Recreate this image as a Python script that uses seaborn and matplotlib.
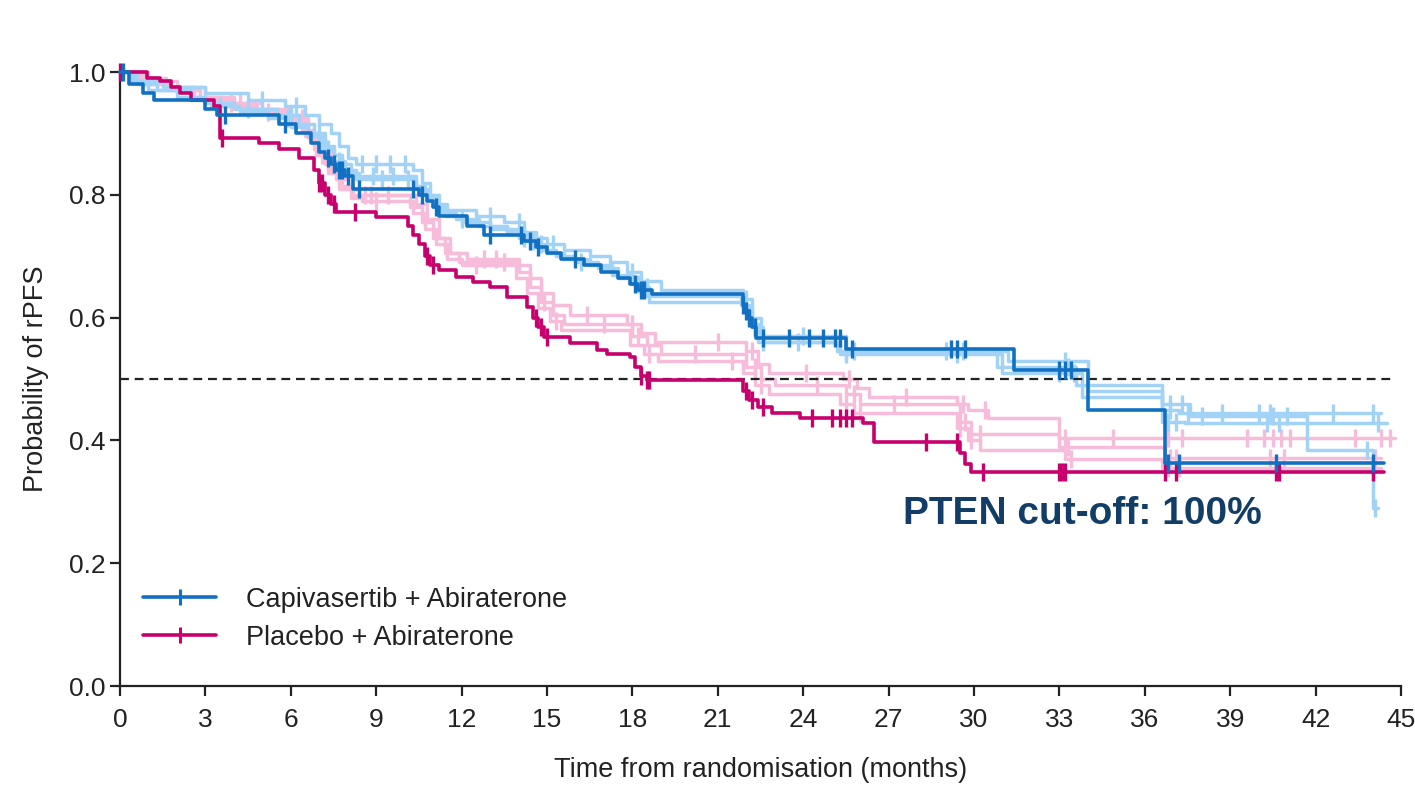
import numpy as np
import matplotlib
matplotlib.use("Agg")
import matplotlib.pyplot as plt
from matplotlib.lines import Line2D
import seaborn as sns

# ---------------- data ----------------
# PTEN cut-off 100% curves (dark)
cap_t = [0, 0.3, 0.8, 1.2, 3.0, 3.4, 5.6, 6.2, 6.7, 7.0, 7.2, 7.4, 7.6, 7.9, 8.2, 10.5, 10.8, 11.0,
         11.2, 12.2, 12.8, 14.2, 14.6, 15.0, 15.5, 16.3, 16.9, 17.5, 17.9, 18.2, 18.7, 21.9, 22.0, 22.1,
         22.2, 22.35, 25.5, 31.4, 34.0, 36.7, 44.4]
cap_s = [1.0, 0.98, 0.965, 0.955, 0.94, 0.93, 0.915, 0.90, 0.885, 0.87, 0.86, 0.85, 0.84, 0.83, 0.81,
         0.80, 0.79, 0.78, 0.765, 0.75, 0.735, 0.725, 0.715, 0.705, 0.695, 0.685, 0.675, 0.665, 0.655,
         0.645, 0.638, 0.62, 0.61, 0.60, 0.585, 0.567, 0.549, 0.515, 0.45, 0.363, 0.363]
cap_cens = [0.1, 3.7, 5.8, 7.3, 7.5, 7.7, 7.8, 8.0, 8.4, 10.3, 10.6, 11.1, 13.0, 14.1, 14.4, 14.7, 16.0,
            18.1, 18.3, 18.4, 21.9, 22.0, 22.1, 22.3, 22.6, 23.5, 24.2, 24.7, 25.1, 25.3, 25.7, 29.2,
            29.4, 29.7, 33.0, 33.2, 33.4, 36.8, 37.2, 40.6, 44.0]

pla_t = [0, 0.95, 1.4, 1.8, 2.1, 2.5, 3.3, 3.5, 4.9, 5.6, 6.3, 6.8, 7.0, 7.2, 7.4, 7.6, 9.0, 10.1, 10.3,
         10.5, 10.7, 10.9, 11.2, 11.8, 12.4, 13.0, 13.6, 14.3, 14.5, 14.7, 14.9, 15.8, 16.75, 17.1, 17.9,
         18.1, 18.3, 18.5, 21.9, 22.1, 22.4, 22.9, 23.9, 26.1, 26.5, 29.5, 29.7, 29.9, 44.4]
pla_s = [1.0, 0.99, 0.985, 0.975, 0.965, 0.955, 0.945, 0.893, 0.885, 0.875, 0.86, 0.84, 0.82, 0.80,
         0.785, 0.772, 0.764, 0.75, 0.735, 0.72, 0.70, 0.685, 0.677, 0.666, 0.658, 0.65, 0.634, 0.617,
         0.60, 0.585, 0.568, 0.558, 0.547, 0.54, 0.536, 0.52, 0.505, 0.498, 0.48, 0.465, 0.455, 0.445,
         0.436, 0.428, 0.397, 0.38, 0.362, 0.348, 0.348]
pla_cens = [0.0, 3.6, 7.0, 7.1, 7.3, 7.5, 8.25, 10.8, 11.0, 14.6, 14.8, 15.0, 18.3, 18.5, 18.6, 22.0,
            22.2, 22.6, 24.3, 25.0, 25.3, 25.5, 25.7, 28.3, 29.4, 30.3, 33.0, 33.1, 33.2, 36.7, 37.1,
            40.6, 40.7, 44.0]

# other PTEN cut-offs (light)
lb1_t = [0, 0.5, 1.5, 3.0, 4.5, 5.8, 6.5, 7.0, 7.4, 7.7, 8.0, 8.3, 10.3, 10.6, 10.9, 11.2, 11.5, 12.5,
         13.5, 14.2, 14.6, 15.0, 15.6, 16.5, 17.2, 17.8, 18.3, 19.0, 21.9, 22.2, 22.5, 25.5, 31.2, 34.0,
         36.6, 37.2, 44.3]
lb1_s = [1.0, 0.985, 0.975, 0.965, 0.955, 0.945, 0.93, 0.915, 0.90, 0.88, 0.86, 0.85, 0.84, 0.82, 0.80,
         0.785, 0.775, 0.765, 0.755, 0.74, 0.73, 0.72, 0.71, 0.70, 0.69, 0.675, 0.66, 0.645, 0.63, 0.60,
         0.57, 0.545, 0.53, 0.48, 0.45, 0.445, 0.445]
lb1_cens = [5.0, 6.2, 8.5, 9.0, 9.5, 10.0, 13.0, 14.0, 15.2, 18.0, 22.0, 24.0, 25.8, 29.0, 33.2, 36.9,
            37.5, 38.7, 40.0, 40.4, 42.6, 44.0]
lb2_t = [0, 0.4, 1.0, 2.0, 3.0, 4.0, 5.5, 6.3, 6.8, 7.2, 7.5, 7.8, 8.1, 8.4, 10.4, 10.7, 11.0, 11.3,
         11.8, 12.6, 13.6, 14.3, 14.8, 15.3, 16.0, 16.8, 17.5, 18.1, 18.6, 21.9, 22.2, 22.6, 25.3, 31.0,
         33.8, 36.6, 37.4, 44.5]
lb2_s = [1.0, 0.985, 0.97, 0.96, 0.95, 0.94, 0.93, 0.915, 0.90, 0.88, 0.865, 0.85, 0.835, 0.83, 0.815,
         0.80, 0.785, 0.77, 0.76, 0.75, 0.74, 0.725, 0.71, 0.70, 0.69, 0.68, 0.665, 0.65, 0.625, 0.615,
         0.585, 0.56, 0.54, 0.51, 0.47, 0.43, 0.428, 0.428]
lb2_cens = [4.5, 6.0, 7.0, 8.9, 9.6, 12.0, 14.5, 16.2, 18.3, 18.5, 22.3, 23.8, 25.5, 29.4, 33.0, 33.5,
            36.8, 37.1, 40.3, 40.7, 44.2]
lb3_t = [0, 0.6, 1.3, 2.5, 3.2, 4.2, 5.2, 6.0, 6.6, 7.1, 7.5, 7.9, 8.3, 10.4, 10.8, 11.1, 11.4, 12.0,
         13.0, 14.0, 14.5, 15.0, 15.6, 16.5, 17.3, 18.0, 18.5, 21.8, 22.1, 22.4, 25.2, 30.8, 33.6, 36.6,
         37.6, 41.7, 44.0, 44.2]
lb3_s = [1.0, 0.98, 0.97, 0.955, 0.945, 0.935, 0.925, 0.91, 0.895, 0.875, 0.855, 0.84, 0.825, 0.81,
         0.795, 0.78, 0.765, 0.755, 0.745, 0.73, 0.72, 0.705, 0.695, 0.685, 0.67, 0.655, 0.635, 0.62,
         0.59, 0.56, 0.545, 0.52, 0.49, 0.46, 0.44, 0.384, 0.29, 0.29]
lb3_cens = [3.5, 5.9, 7.3, 7.7, 9.2, 10.1, 14.2, 14.8, 18.2, 22.0, 22.6, 25.5, 29.6, 33.3, 36.9, 37.3,
            38.0, 40.5, 41.0, 43.8, 44.1]

lp1_t = [0, 1.0, 2.0, 3.0, 4.0, 5.0, 6.0, 6.6, 7.0, 7.4, 7.8, 8.2, 10.4, 10.8, 11.2, 11.6, 12.2, 14.0,
         14.4, 14.8, 15.2, 15.8, 17.8, 18.3, 18.8, 22.0, 22.4, 22.8, 25.4, 25.9, 26.3, 29.4, 29.8, 30.5,
         33.0, 44.8]
lp1_s = [1.0, 0.985, 0.975, 0.96, 0.95, 0.94, 0.925, 0.90, 0.87, 0.84, 0.815, 0.80, 0.785, 0.76, 0.73,
         0.705, 0.695, 0.685, 0.665, 0.64, 0.62, 0.605, 0.59, 0.575, 0.56, 0.545, 0.525, 0.51, 0.50, 0.485,
         0.47, 0.46, 0.45, 0.436, 0.404, 0.404]
lp1_cens = [4.2, 6.4, 8.6, 9.4, 12.8, 13.2, 16.4, 18.0, 21.0, 22.2, 24.1, 25.6, 27.6, 29.6, 30.4, 33.2,
            34.9, 36.8, 37.3, 39.6, 40.2, 40.5, 40.8, 41.1, 43.4, 44.3, 44.6]
lp2_t = [0, 0.8, 1.8, 2.8, 3.8, 4.8, 5.8, 6.5, 6.9, 7.3, 7.7, 8.1, 8.5, 10.3, 10.7, 11.1, 11.5, 12.0,
         14.0, 14.4, 14.8, 15.2, 15.6, 18.0, 18.5, 19.0, 22.0, 22.5, 23.0, 25.5, 26.0, 29.5, 29.9, 33.0,
         36.7, 44.3]
lp2_s = [1.0, 0.98, 0.97, 0.955, 0.945, 0.935, 0.92, 0.895, 0.865, 0.835, 0.81, 0.795, 0.79, 0.77, 0.745,
         0.72, 0.695, 0.685, 0.675, 0.65, 0.625, 0.605, 0.59, 0.57, 0.555, 0.54, 0.52, 0.50, 0.49, 0.475,
         0.46, 0.43, 0.41, 0.39, 0.371, 0.371]
lp2_cens = [5.2, 7.1, 9.0, 12.5, 14.9, 17.0, 18.2, 20.2, 22.3, 24.5, 25.8, 27.2, 29.7, 30.2, 33.3, 36.9,
            37.1, 40.4, 40.9, 44.1]
lp3_t = [0, 0.7, 1.6, 2.6, 3.6, 4.6, 5.6, 6.4, 6.8, 7.2, 7.6, 8.0, 8.4, 10.2, 10.6, 11.0, 11.4, 11.9,
         13.9, 14.3, 14.7, 15.1, 15.5, 17.9, 18.4, 18.9, 21.9, 22.3, 22.8, 25.3, 25.8, 29.4, 29.8, 30.2,
         33.2, 36.6, 44.3]
lp3_s = [1.0, 0.99, 0.975, 0.96, 0.95, 0.94, 0.93, 0.905, 0.875, 0.85, 0.825, 0.81, 0.80, 0.78, 0.755,
         0.73, 0.705, 0.69, 0.665, 0.64, 0.615, 0.595, 0.58, 0.555, 0.54, 0.53, 0.51, 0.49, 0.475, 0.46,
         0.445, 0.42, 0.40, 0.385, 0.37, 0.355, 0.355]
lp3_cens = [3.9, 6.6, 8.8, 13.5, 15.3, 18.6, 21.5, 22.5, 25.5, 26.0, 29.5, 29.9, 33.4, 36.8, 37.2,
            40.6, 44.0]

x_ticks = [0, 3, 6, 9, 12, 15, 18, 21, 24, 27, 30, 33, 36, 39, 42, 45]
y_ticks = [0.0, 0.2, 0.4, 0.6, 0.8, 1.0]
legend_labels = ["Capivasertib + Abiraterone", "Placebo + Abiraterone"]

# ---------------- style ----------------
sns.set_style("ticks")
plt.rcParams["font.family"] = ["Liberation Sans", "DejaVu Sans"]

DARK_BLUE = "#1170c2"
DARK_MAG = "#c7006d"
LIGHT_BLUE = "#a3d2f7"
LIGHT_PINK = "#f6bcd9"
NAVY = "#123d66"

fig = plt.figure(figsize=(14.15, 7.86), dpi=100, facecolor="white")
ax = fig.add_axes([120 / 1415, 1 - 686 / 786, 1281 / 1415, 614 / 786])


def surv_at(t, s, c):
    t = np.asarray(t)
    s = np.asarray(s)
    idx = np.searchsorted(t, np.asarray(c), side="right") - 1
    return s[idx]


def km(t, s, cens, color, lw, z):
    sns.lineplot(x=t, y=s, drawstyle="steps-post", estimator=None, sort=False, color=color,
                 linewidth=lw, ax=ax, zorder=z, clip_on=False)
    sns.lineplot(x=cens, y=surv_at(t, s, cens), estimator=None, sort=False, color=color,
                 linestyle="", marker="|", markersize=13, markeredgewidth=2.4,
                 markeredgecolor=color, markerfacecolor=color, ax=ax, zorder=z, clip_on=False)


for (t, s, c) in [(lp1_t, lp1_s, lp1_cens), (lp2_t, lp2_s, lp2_cens), (lp3_t, lp3_s, lp3_cens)]:
    km(t, s, c, LIGHT_PINK, 2.5, 2)
for (t, s, c) in [(lb1_t, lb1_s, lb1_cens), (lb2_t, lb2_s, lb2_cens), (lb3_t, lb3_s, lb3_cens)]:
    km(t, s, c, LIGHT_BLUE, 2.5, 3)
km(pla_t, pla_s, pla_cens, DARK_MAG, 2.6, 5)
km(cap_t, cap_s, cap_cens, DARK_BLUE, 2.6, 6)

ax.axhline(0.5, xmin=0, xmax=0.996, color="#222222", linewidth=1.6, linestyle=(0, (4, 2.6)), zorder=4)

ax.set_xlim(0, 45)
ax.set_ylim(0, 1.0)
ax.set_xticks(x_ticks)
ax.set_yticks(y_ticks)
ax.set_xticklabels([str(v) for v in x_ticks])
ax.set_yticklabels([f"{v:.1f}" for v in y_ticks])
ax.tick_params(axis="both", labelsize=19, length=7.5, width=1.6, color="#222222", labelcolor="#222222",
               direction="out")
ax.tick_params(axis="x", pad=8)
ax.tick_params(axis="y", pad=3)
for sp in ["top", "right"]:
    ax.spines[sp].set_visible(False)
for sp in ["left", "bottom"]:
    ax.spines[sp].set_linewidth(1.6)
    ax.spines[sp].set_color("#222222")
ax.set_facecolor("white")

ax.set_xlabel("Time from randomisation (months)", fontsize=19.5, color="#222222", labelpad=18)
ax.set_ylabel("Probability of rPFS", fontsize=19.5, color="#222222", labelpad=14)

ax.text(27.5, 0.28, "PTEN cut-off: 100%", fontsize=28, fontweight="bold", color=NAVY,
        ha="left", va="center", zorder=8)

handles = [Line2D([], [], color=DARK_BLUE, lw=2.6, marker="|", markersize=12, markeredgewidth=2.2),
           Line2D([], [], color=DARK_MAG, lw=2.6, marker="|", markersize=12, markeredgewidth=2.2)]
leg = ax.legend(handles, legend_labels, loc="upper left", bbox_to_anchor=(0.018, 0.162),
                frameon=False, fontsize=19.5, handlelength=2.7, handletextpad=1.1,
                labelspacing=0.45, borderpad=0, borderaxespad=0, numpoints=1)
for txt in leg.get_texts():
    txt.set_color("#222222")

fig.savefig("out.png", dpi=100, facecolor="white")
